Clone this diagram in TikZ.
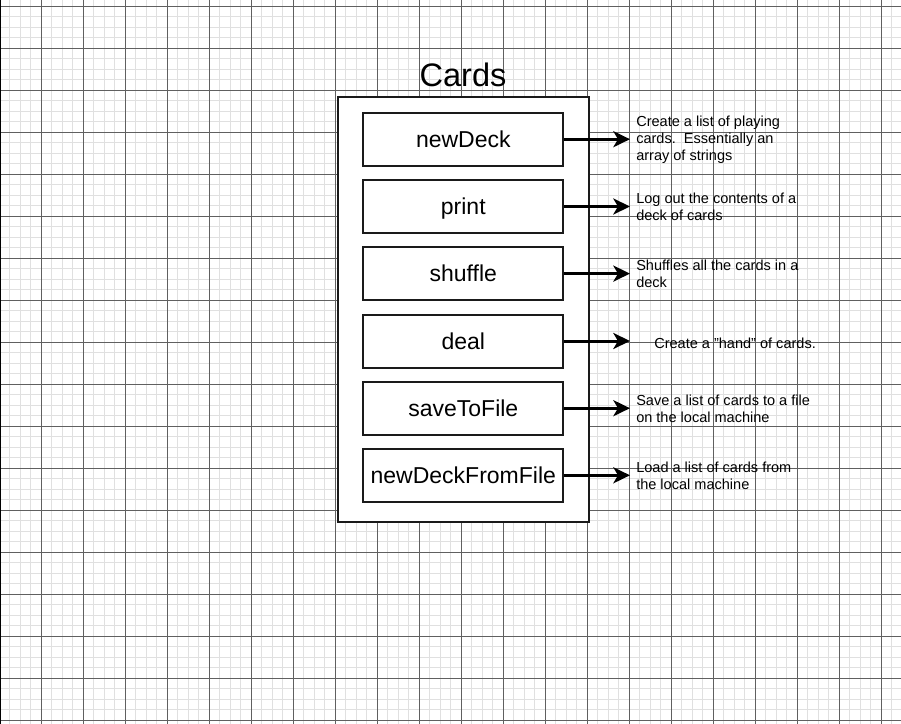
\documentclass[tikz,border=0pt]{standalone}
\usepackage{fontspec}
\setmainfont{Liberation Sans}
\usetikzlibrary{arrows.meta}
\definecolor{minorgrid}{RGB}{224,224,224}
\definecolor{majorgrid}{RGB}{96,96,96}
\definecolor{strokec}{RGB}{26,26,26}
\begin{document}
\begin{tikzpicture}[x=0.75pt,y=-0.75pt,
  minorline/.style={draw=minorgrid,line width=0.9pt},
  majorline/.style={draw=majorgrid,line width=0.75pt},
  method/.style={draw=strokec,line width=1.5pt,fill=white,minimum width=150pt,minimum height=39.75pt,inner sep=0pt,
    font=\fontsize{17.25pt}{20pt}\selectfont,text height=15.5pt,text depth=3.45pt},
  frame/.style={draw=strokec,line width=1.5pt,fill=white,inner sep=0pt,minimum width=188.6pt,minimum height=318.75pt},
  desc/.style={anchor=west,align=left,inner sep=0pt,font=\fontsize{10.9pt}{12.9pt}\selectfont},
  arr/.style={draw=black,line width=2.25pt,-{Stealth[length=12.5pt,width=12pt,inset=3.5pt]}},
  titlefont/.style={font=\fontsize{24.4pt}{29pt}\selectfont}
]
\useasboundingbox (0,0) rectangle (901,724);
\fill[white] (0,0) rectangle (901,724);
\begin{scope}
  \clip (0,0) rectangle (901,724);
  \foreach \i in {0,...,86} \draw[minorline] ({-0.7+10.5*\i},0) -- ({-0.7+10.5*\i},724);
  \foreach \i in {-1,...,69} \draw[minorline] (0,{6.2+10.5*\i}) -- (901,{6.2+10.5*\i});
  \foreach \i in {1,...,21} \draw[majorline] ({-0.7+42*\i},0) -- ({-0.7+42*\i},724);
  \foreach \i in {0,...,17} \draw[majorline] (0,{6.2+42*\i}) -- (901,{6.2+42*\i});
  \draw[black,line width=1.2pt] (0.6,0) -- (0.6,724);
\end{scope}

\node[titlefont,anchor=base] (title) at (463,86.5) {Cards};
\node[frame] (box) at (463.3,309.5) {};

\node[method] (m1) at (463.3,139.2) {newDeck};
\node[method] (m2) at (463.3,206.5) {print};
\node[method] (m3) at (463.3,273.6) {shuffle};
\node[method] (m4) at (463.3,341) {deal};
\node[method] (m5) at (463.3,408.2) {saveToFile};
\node[method] (m6) at (463.3,475.3) {newDeckFromFile};

\coordinate (e1) at (630,139.2);
\coordinate (e2) at (630,206.5);
\coordinate (e3) at (630,273.6);
\coordinate (e4) at (630,341);
\coordinate (e5) at (630,408.2);
\coordinate (e6) at (630,475.3);

\draw[arr] (m1.east) -- (e1);
\draw[arr] (m2.east) -- (e2);
\draw[arr] (m3.east) -- (e3);
\draw[arr] (m4.east) -- (e4);
\draw[arr] (m5.east) -- (e5);
\draw[arr] (m6.east) -- (e6);

\node[desc] (d1) at (636,140) {Create a list of playing\\cards.\ \ Essentially an\\array of strings};
\node[desc] (d2) at (636,207) {Log out the contents of a\\deck of cards};
\node[desc] (d3) at (636,274) {Shuffles all the cards in a\\deck};
\node[desc] (d4) at (654,343) {Create a "hand" of cards.};
\node[desc] (d5) at (636,409) {Save a list of cards to a file\\on the local machine};
\node[desc] (d6) at (636,476) {Load a list of cards from\\the local machine};
\end{tikzpicture}
\end{document}
